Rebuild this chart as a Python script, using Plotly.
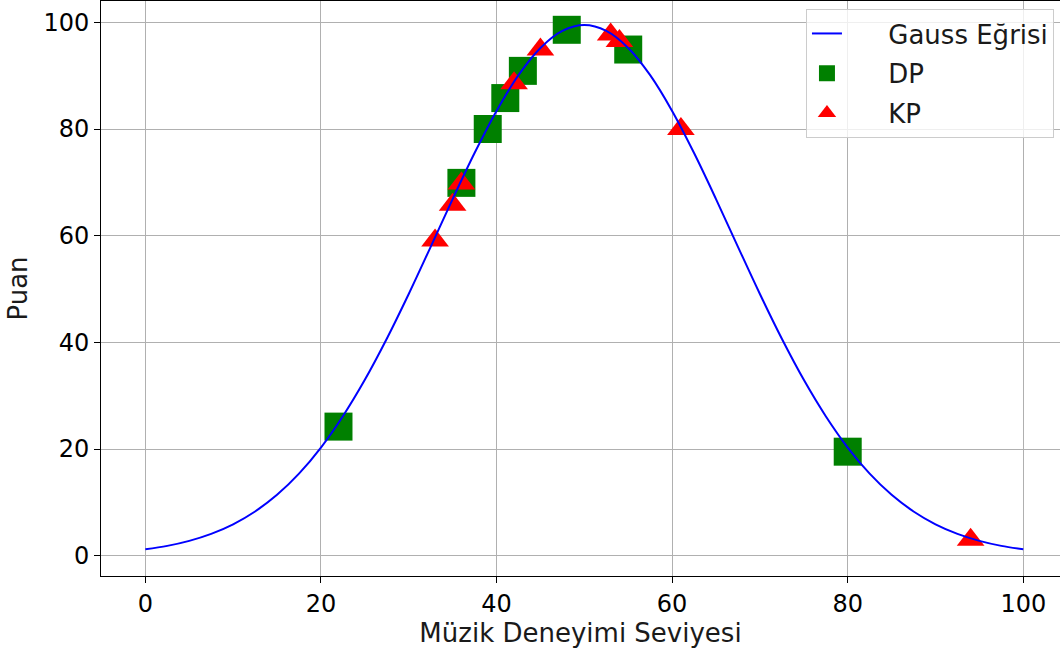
import plotly.graph_objects as go

# Gauss curve values (x step 2.5)
curve_x = [0, 2.5, 5, 7.5, 10, 12.5, 15, 17.5, 20, 22.5, 25, 27.5, 30, 32.5, 35, 37.5,
           40, 42.5, 45, 47.5, 50, 52.5, 55, 57.5, 60, 62.5, 65, 67.5, 70, 72.5, 75,
           77.5, 80, 82.5, 85, 87.5, 90, 92.5, 95, 97.5, 100]
curve_y = [1.2, 1.84, 2.78, 4.09, 5.88, 8.29, 11.41, 15.38, 20.28, 26.15, 32.97, 40.67,
           49.06, 57.91, 66.86, 75.49, 83.38, 90.09, 95.2, 98.4, 99.5, 98.4, 95.2, 90.09,
           83.38, 75.49, 66.86, 57.91, 49.06, 40.67, 32.97, 26.15, 20.28, 15.38, 11.41,
           8.29, 5.88, 4.09, 2.78, 1.84, 1.2]

dp_x = [22, 36, 39, 41, 43, 48, 55, 80]
dp_y = [24.2, 69.9, 80.0, 85.8, 90.9, 98.6, 94.9, 19.5]

kp_x = [33, 35, 36, 42, 45, 53, 54, 61, 94]
kp_y = [59.1, 65.8, 69.8, 88.6, 94.9, 97.7, 96.5, 80.0, 3.0]

x_ticks = [0, 20, 40, 60, 80, 100]
y_ticks = [0, 20, 40, 60, 80, 100]

FONT = "DejaVu Sans"
PAD = "\u00a0" * 5

fig = go.Figure()
fig.add_trace(go.Scatter(x=dp_x, y=dp_y, mode="markers", name=PAD + "DP", legendrank=2,
                         legendgroup="b",
                         marker=dict(symbol="square", size=28, color="#008000",
                                     line=dict(width=0))))
fig.add_trace(go.Scatter(x=kp_x, y=kp_y, mode="markers", name=PAD + "KP", legendrank=3,
                         legendgroup="c",
                         marker=dict(symbol="triangle-up", size=24, color="#ff0000",
                                     line=dict(width=0))))
fig.add_trace(go.Scatter(x=curve_x, y=curve_y, mode="lines", name=PAD + "Gauss Eğrisi",
                         legendrank=1, legendgroup="a",
                         line=dict(color="#0000ff", width=2, shape="spline")))

axis_common = dict(
    showgrid=True, gridcolor="#b0b0b0", gridwidth=1,
    zeroline=False, showline=True, linecolor="black", linewidth=1,
    ticks="outside", ticklen=6, tickwidth=1, tickcolor="black",
    tickfont=dict(family=FONT, size=24, color="black"),
)

fig.update_layout(
    width=1060, height=652,
    margin=dict(l=101, r=0, t=1, b=76),
    plot_bgcolor="white", paper_bgcolor="white",
    font=dict(family=FONT, color="black"),
    xaxis=dict(range=[-5.05, 104.18], tickvals=x_ticks, mirror=True,
               title=dict(text="Müzik Deneyimi Seviyesi",
                          font=dict(family=FONT, size=26, color="#1a1a1a"), standoff=5),
               **axis_common),
    yaxis=dict(range=[-3.81, 104.0], tickvals=y_ticks,
               title=dict(text="Puan", font=dict(family=FONT, size=26, color="#1a1a1a"),
                          standoff=8),
               **axis_common),
    legend=dict(x=0.9937, y=0.986, xanchor="right", yanchor="top",
                bgcolor="rgba(255,255,255,0.8)", bordercolor="#cccccc", borderwidth=1,
                font=dict(family=FONT, size=26, color="#1a1a1a"),
                itemsizing="trace", tracegroupgap=3),
    showlegend=True,
)

fig.write_html("out.html")
